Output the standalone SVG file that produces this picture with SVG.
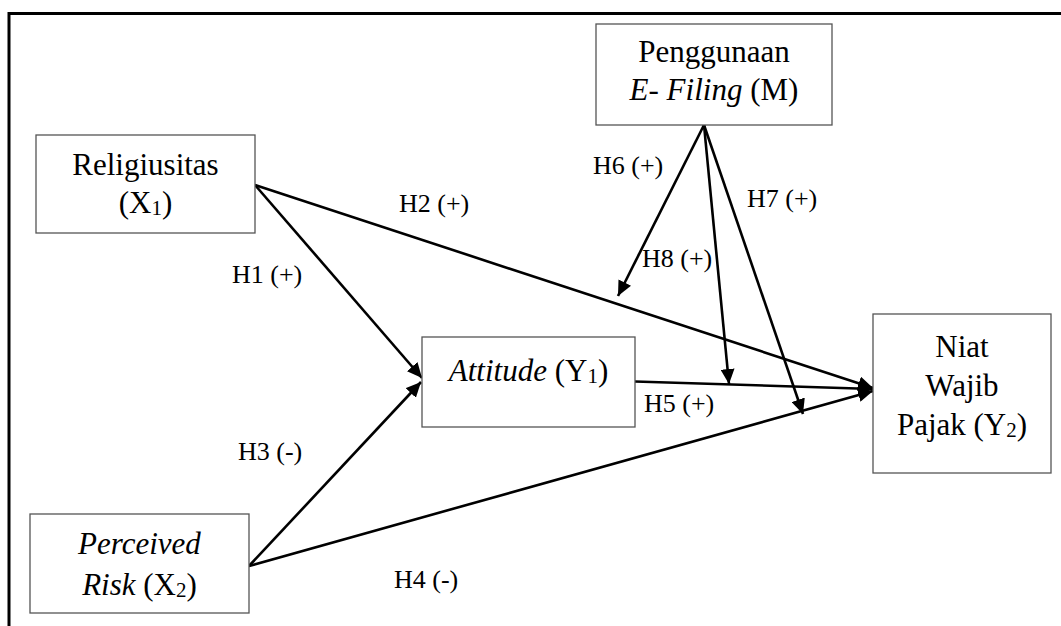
<svg xmlns="http://www.w3.org/2000/svg" width="1061" height="626" viewBox="0 0 1061 626">
<style>
.box{fill:#fff;stroke:#555;stroke-width:1.3}
.nt{font-family:"Liberation Serif","Times New Roman",serif;font-size:31px;fill:#000;text-anchor:middle}
.lb{font-family:"Liberation Serif","Times New Roman",serif;font-size:26px;fill:#000}
.cn{stroke:#000;stroke-width:2.6;fill:none;marker-end:url(#ah)}
.frame{stroke:#000;stroke-width:3;fill:none}
</style>
<defs>
<marker id="ah" markerUnits="userSpaceOnUse" markerWidth="16" markerHeight="14" refX="15" refY="7" orient="auto">
<path d="M0,0 L15,7 L0,14 z" fill="#000"/>
</marker>
</defs>
<rect width="1061" height="626" fill="#fff"/>
<path class="frame" d="M9,626 L9,13.5 L1061,13.5"/>

<g id="connectors">
<line class="cn" x1="255" y1="185" x2="422" y2="378"/>
<line class="cn" x1="255" y1="185" x2="873" y2="388"/>
<line class="cn" x1="249" y1="566" x2="421" y2="382"/>
<line class="cn" x1="249" y1="566" x2="873" y2="391"/>
<line class="cn" x1="635" y1="381.5" x2="873" y2="389"/>
<line class="cn" x1="704" y1="125" x2="618" y2="296"/>
<line class="cn" x1="704" y1="125" x2="729" y2="384"/>
<line class="cn" x1="704" y1="125" x2="803" y2="414"/>
</g>

<g id="labels">
<text class="lb" x="399" y="212">H2 (+)</text>
<text class="lb" x="232" y="283">H1 (+)</text>
<text class="lb" x="238" y="460">H3 (-)</text>
<text class="lb" x="394" y="588">H4 (-)</text>
<text class="lb" x="644" y="412">H5 (+)</text>
<text class="lb" x="593" y="174">H6 (+)</text>
<text class="lb" x="747" y="207">H7 (+)</text>
<text class="lb" x="642" y="267">H8 (+)</text>
</g>

<g id="religiusitas">
<rect class="box" x="36" y="135" width="219" height="98"/>
<text class="nt" x="145.5" y="175">Religiusitas</text>
<text class="nt" x="145.5" y="213">(X<tspan font-size="21" dy="2">1</tspan><tspan dy="-2">)</tspan></text>
</g>

<g id="penggunaan">
<rect class="box" x="596" y="24" width="236" height="101"/>
<text class="nt" x="714" y="62">Penggunaan</text>
<text class="nt" x="714" y="100"><tspan font-style="italic">E- Filing</tspan> (M)</text>
</g>

<g id="attitude">
<rect class="box" x="422" y="337" width="213" height="90"/>
<text class="nt" x="528.5" y="381"><tspan font-style="italic">Attitude</tspan> (Y<tspan font-size="21" dy="2">1</tspan><tspan dy="-2">)</tspan></text>
</g>

<g id="niat">
<rect class="box" x="873" y="314" width="178" height="159"/>
<text class="nt" x="962" y="357">Niat</text>
<text class="nt" x="962" y="396">Wajib</text>
<text class="nt" x="962" y="435">Pajak (Y<tspan font-size="21" dy="2">2</tspan><tspan dy="-2">)</tspan></text>
</g>

<g id="perceived">
<rect class="box" x="30" y="514" width="219" height="99"/>
<text class="nt" x="139.5" y="554" font-style="italic">Perceived</text>
<text class="nt" x="139.5" y="595"><tspan font-style="italic">Risk</tspan> (X<tspan font-size="21" dy="2">2</tspan><tspan dy="-2">)</tspan></text>
</g>
</svg>
